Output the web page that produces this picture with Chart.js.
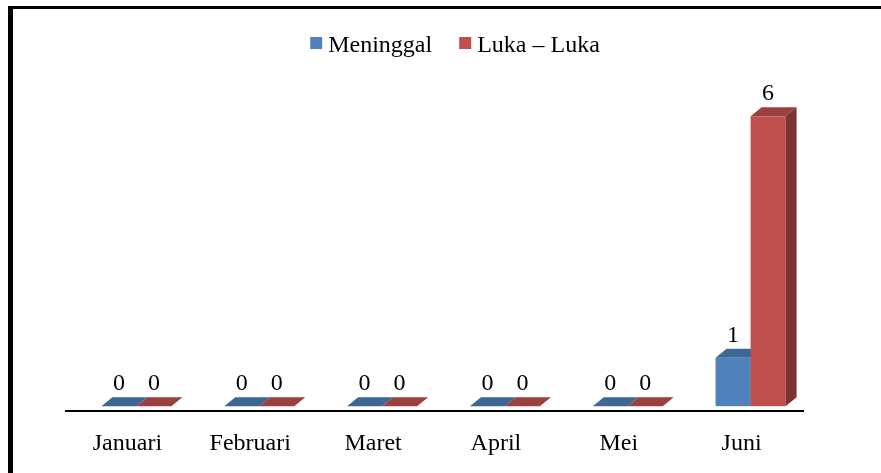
<!DOCTYPE html>
<html>
<head>
<meta charset="utf-8">
<title>Korban Kecelakaan</title>
<script src="https://cdn.jsdelivr.net/npm/chart.js@4.4.1/dist/chart.umd.min.js"></script>
<style>
  html, body { margin: 0; padding: 0; background: #fff; }
  #wrap { position: relative; width: 881px; height: 473px; overflow: hidden; }
  #frame { position: absolute; left: 8px; top: 6px; right: 0; bottom: 0;
           border-left: 5px solid #000; border-top: 3px solid #000; }
  #chart { position: absolute; left: 0; top: 0; }
</style>
</head>
<body>
<div id="wrap">
  <div id="frame"></div>
  <canvas id="chart" width="881" height="473"></canvas>
</div>
<script>
const months = ['Januari', 'Februari', 'Maret', 'April', 'Mei', 'Juni'];
const meninggal = [0, 0, 0, 0, 0, 1];
const lukaLuka = [0, 0, 0, 0, 0, 6];
const seriesNames = ['Meninggal', 'Luka – Luka'];

const FONT = '"Liberation Serif", "Times New Roman", serif';
const DEPTH_X = 11;   // 3d depth of a column
const DEPTH_Y = 9;
const SHIFT_X = 9;    // perspective shift of the columns against the axis labels

const shades = [
  { front: '#4f81bd', top: '#3e6796', side: '#3b5f8c' },
  { front: '#c0504d', top: '#9a403e', side: '#7e3231' }
];

function poly(ctx, pts) {
  ctx.beginPath();
  ctx.moveTo(pts[0][0], pts[0][1]);
  for (let k = 1; k < pts.length; k++) ctx.lineTo(pts[k][0], pts[k][1]);
  ctx.closePath();
  ctx.fill();
}

// draws every bar as a 3d column, then its value above it
const columns3d = {
  id: 'columns3d',
  beforeDatasetsDraw(chart) {
    const ctx = chart.ctx;
    const metas = chart.getSortedVisibleDatasetMetas();
    ctx.save();
    ctx.translate(SHIFT_X, 0);

    months.forEach((m, i) => {
      metas.forEach(meta => {
        const bar = meta.data[i];
        const c = shades[meta.index];
        const left = bar.x - bar.width / 2;
        const right = bar.x + bar.width / 2;
        const top = Math.min(bar.y, bar.base);
        const base = bar.base;

        ctx.fillStyle = c.front;
        ctx.fillRect(left, top, right - left, base - top);
        ctx.fillStyle = c.top;
        poly(ctx, [[left, top], [right, top], [right + DEPTH_X, top - DEPTH_Y], [left + DEPTH_X, top - DEPTH_Y]]);
        if (base - top > 0.5) {
          ctx.fillStyle = c.side;
          poly(ctx, [[right, top], [right + DEPTH_X, top - DEPTH_Y], [right + DEPTH_X, base - DEPTH_Y], [right, base]]);
        }
      });
    });

    ctx.fillStyle = '#000';
    ctx.font = '24px ' + FONT;
    ctx.textAlign = 'center';
    ctx.textBaseline = 'alphabetic';
    metas.forEach(meta => {
      const values = chart.data.datasets[meta.index].data;
      meta.data.forEach((bar, i) => {
        const top = Math.min(bar.y, bar.base);
        ctx.fillText(String(values[i]), bar.x, top - DEPTH_Y - 7);
      });
    });

    ctx.restore();
    return false;
  }
};

// legend row at the top: small square + series name
const topLegend = {
  id: 'topLegend',
  afterDraw(chart) {
    const ctx = chart.ctx;
    const box = 12, gap = 6, itemGap = 27, centerX = 455, baseline = 52;
    ctx.save();
    ctx.font = '24px ' + FONT;
    ctx.textBaseline = 'alphabetic';
    ctx.textAlign = 'left';
    const widths = seriesNames.map(n => ctx.measureText(n).width);
    const total = widths.reduce((s, w) => s + box + gap + w, 0) + itemGap * (seriesNames.length - 1);
    let x = centerX - total / 2;
    seriesNames.forEach((name, k) => {
      ctx.fillStyle = shades[k].front;
      ctx.fillRect(x, baseline - 15, box, box);
      ctx.fillStyle = '#000';
      ctx.fillText(name, x + box + gap, baseline);
      x += box + gap + widths[k] + itemGap;
    });
    ctx.restore();
  }
};

const data = {
  labels: months,
  datasets: [
    { label: seriesNames[0], data: meninggal, backgroundColor: shades[0].front },
    { label: seriesNames[1], data: lukaLuka, backgroundColor: shades[1].front }
  ]
};

const config = {
  type: 'bar',
  data: data,
  options: {
    responsive: false,
    animation: false,
    layout: { padding: { top: 68, left: 66, right: 78, bottom: 0 } },
    datasets: { bar: { categoryPercentage: 0.57, barPercentage: 1.0 } },
    plugins: {
      legend: { display: false },
      tooltip: { enabled: false }
    },
    scales: {
      x: {
        grid: { display: false, drawTicks: false },
        border: { display: true, color: '#000', width: 2 },
        ticks: {
          color: '#000',
          font: { family: FONT, size: 24 },
          padding: 18,
          maxRotation: 0,
          autoSkip: false
        },
        afterFit(scale) { scale.height = 62; }
      },
      y: { display: false, min: -0.1, max: 7 }
    }
  },
  plugins: [columns3d, topLegend]
};

const myChart = new Chart(document.getElementById('chart'), config);
</script>
</body>
</html>
